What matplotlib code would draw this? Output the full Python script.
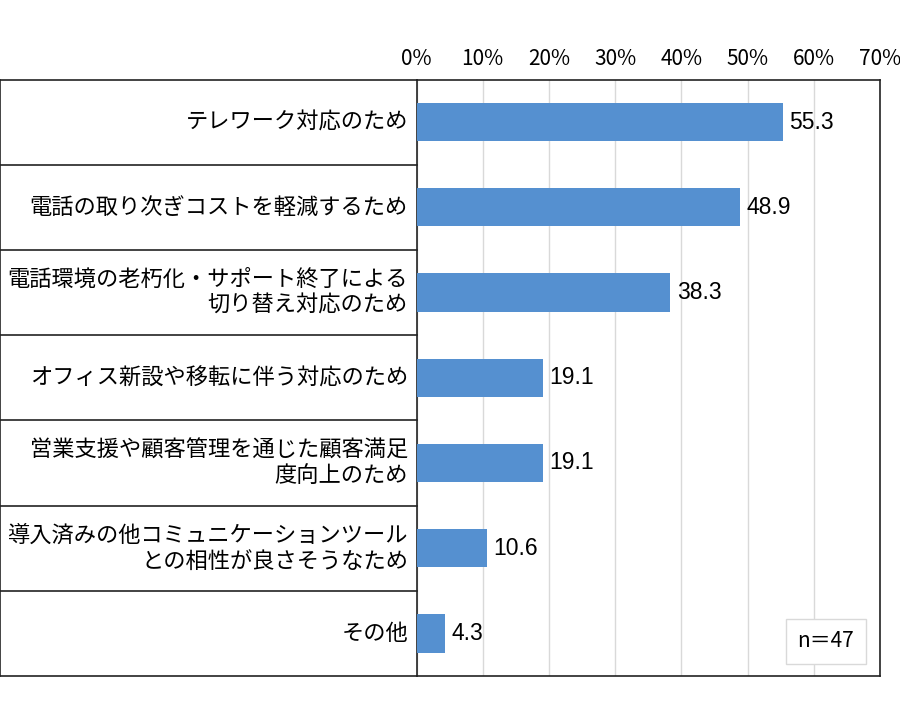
import matplotlib.pyplot as plt
import numpy as np

plt.rcParams['font.family'] = ['Noto Sans CJK JP', 'DejaVu Sans']

# データ
categories = [
    'テレワーク対応のため',
    '電話の取り次ぎコストを軽減するため',
    '電話環境の老朽化・サポート終了による\n切り替え対応のため',
    'オフィス新設や移転に伴う対応のため',
    '営業支援や顧客管理を通じた顧客満足\n度向上のため',
    '導入済みの他コミュニケーションツール\nとの相性が良さそうなため',
    'その他',
]
values = [55.3, 48.9, 38.3, 19.1, 19.1, 10.6, 4.3]
x_ticks = [0, 10, 20, 30, 40, 50, 60, 70]
sample_note = 'n＝47'


def main():
    W, H = 900, 702
    fig = plt.figure(figsize=(9, 7.02), dpi=100)
    left, right, top, bottom = 416.5, 880, 79.5, 676
    ax = fig.add_axes([left / W, 1 - bottom / H, (right - left) / W, (bottom - top) / H])

    n = len(categories)
    y = np.arange(n)
    ax.barh(y, values, height=0.45, color='#5590D0', zorder=3)
    ax.set_ylim(n - 0.5, -0.5)
    ax.set_xlim(0, 70)

    # 目盛りは上側
    ax.xaxis.tick_top()
    ax.set_xticks(x_ticks)
    ax.set_xticklabels([f'{t}%' for t in x_ticks], fontsize=15)
    ax.tick_params(axis='x', length=0, pad=7)
    ax.set_yticks([])
    ax.grid(axis='x', color='#D9D9D9', linewidth=1, zorder=0)
    for s in ax.spines.values():
        s.set_color('#222222')
        s.set_linewidth(1.2)

    # 値ラベル
    for yi, v in zip(y, values):
        ax.text(v + 1.0, yi, f'{v:.1f}', va='center', ha='left', fontsize=16.5,
                family=['Liberation Sans', 'DejaVu Sans'], zorder=4)

    # 左側の表
    ytr = ax.get_yaxis_transform()
    x0 = -left / (right - left) + 0.5 / (right - left)
    for b in np.arange(-0.5, n, 1.0):
        ax.plot([x0, 0], [b, b], color='#222222', linewidth=1.2,
                transform=ytr, clip_on=False)
    ax.plot([x0, x0], [-0.5, n - 0.5], color='#222222', linewidth=1.2,
            transform=ytr, clip_on=False)
    for yi, c in zip(y, categories):
        ax.text(-8.5 / (right - left), yi, c, transform=ytr, ha='right',
                va='center', fontsize=16, linespacing=1.15,
                multialignment='right')

    # n数
    ax.text(0.944, 0.058, sample_note, transform=ax.transAxes, ha='right',
            va='center', fontsize=15,
            bbox=dict(boxstyle='square,pad=0.55', facecolor='white',
                      edgecolor='#D9D9D9', linewidth=1), zorder=5)

    fig.savefig('out.png', dpi=100)


if __name__ == '__main__':
    main()
